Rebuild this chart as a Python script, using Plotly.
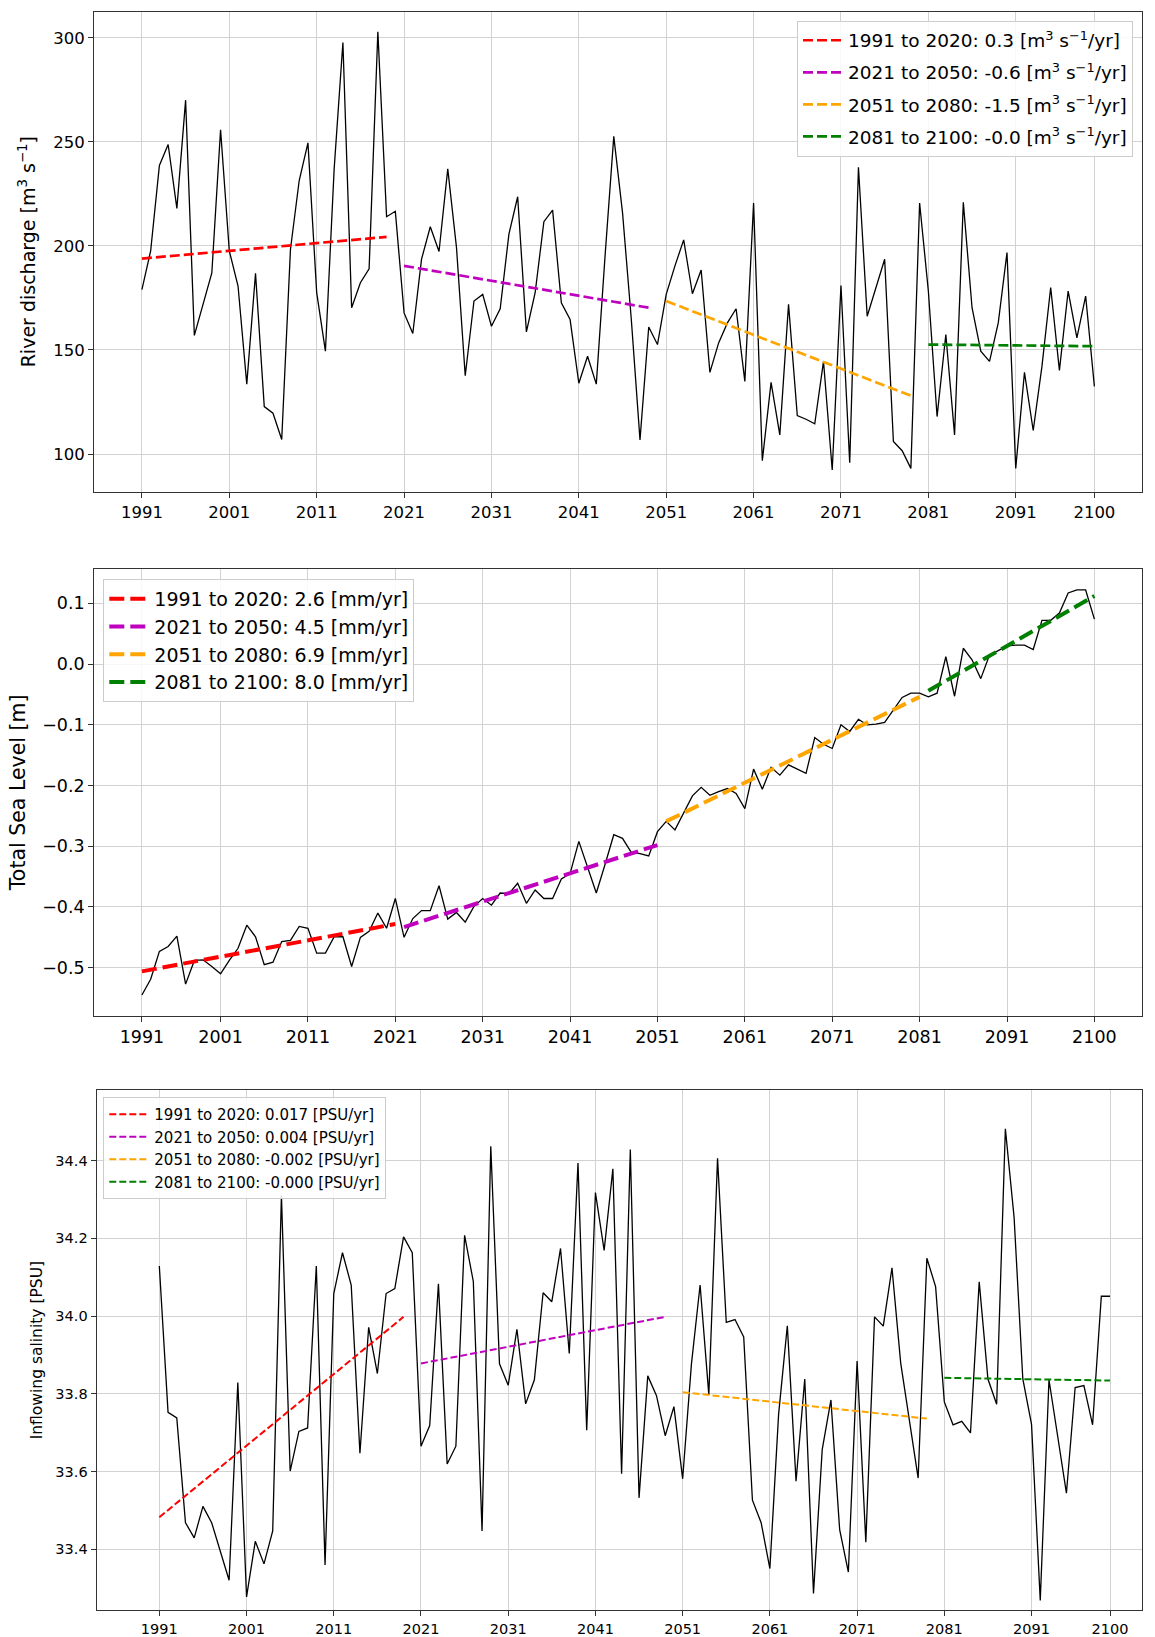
import plotly.graph_objects as go

W, H = 1155, 1637

years = list(range(1991, 2101))

# River discharge [m3 s-1], one value per year 1991..2100
discharge = [
    179.0, 197.6, 238.6, 248.7, 218.0, 270.0, 157.0, 172.0, 187.0, 255.8,
    197.6, 180.7, 133.6, 186.8, 122.8, 119.6, 107.0, 198.4, 231.4, 249.5,
    177.5, 149.4, 237.0, 297.7, 170.3, 182.3, 189.0, 302.9, 214.0, 216.6,
    167.8, 157.9, 193.6, 209.2, 197.3, 237.0, 199.2, 137.6, 173.5, 176.7,
    161.4, 169.8, 205.6, 223.6, 158.7, 177.5, 211.6, 217.2, 172.7, 164.6,
    134.0, 147.0, 133.6, 195.0, 252.6, 216.0, 165.0, 106.8, 161.0, 152.6,
    176.7, 190.4, 202.9, 177.0, 188.4, 139.2, 153.4, 163.0, 169.8, 134.9,
    220.6, 96.8, 134.4, 109.2, 171.9, 118.5, 116.7, 114.5, 144.5, 92.3,
    181.0, 95.8, 237.8, 166.2, 180.0, 193.6, 106.0, 101.6, 93.1, 220.6,
    178.3, 118.0, 157.4, 109.2, 220.9, 170.3, 149.4, 144.5, 163.0, 196.8,
    93.1, 139.2, 111.3, 142.1, 180.0, 140.2, 178.3, 155.8, 175.9, 132.5,
]

# Total sea level [m]
sea_level = [
    -0.545, -0.519, -0.473, -0.465, -0.448, -0.527, -0.488, -0.487, -0.498, -0.510,
    -0.488, -0.468, -0.430, -0.449, -0.495, -0.491, -0.457, -0.455, -0.432, -0.435,
    -0.476, -0.476, -0.449, -0.449, -0.498, -0.450, -0.440, -0.410, -0.435, -0.386,
    -0.450, -0.419, -0.406, -0.406, -0.365, -0.420, -0.409, -0.425, -0.399, -0.386,
    -0.397, -0.377, -0.378, -0.361, -0.394, -0.372, -0.386, -0.386, -0.354, -0.345,
    -0.292, -0.334, -0.377, -0.330, -0.281, -0.287, -0.310, -0.312, -0.316, -0.276,
    -0.259, -0.273, -0.246, -0.217, -0.203, -0.216, -0.210, -0.205, -0.213, -0.238,
    -0.173, -0.206, -0.170, -0.183, -0.166, -0.173, -0.180, -0.121, -0.132, -0.139,
    -0.100, -0.111, -0.091, -0.100, -0.099, -0.096, -0.076, -0.055, -0.048, -0.048,
    -0.054, -0.048, 0.012, -0.053, 0.026, 0.007, -0.024, 0.015, 0.022, 0.030,
    0.031, 0.031, 0.024, 0.072, 0.072, 0.084, 0.117, 0.122, 0.122, 0.074,
]

# Inflowing salinity [PSU]
salinity = [
    34.129, 33.752, 33.738, 33.468, 33.429, 33.510, 33.468, 33.395, 33.320, 33.829,
    33.277, 33.420, 33.362, 33.447, 34.311, 33.601, 33.703, 33.712, 34.129, 33.359,
    34.058, 34.163, 34.080, 33.647, 33.971, 33.852, 34.058, 34.071, 34.204, 34.163,
    33.665, 33.718, 34.083, 33.619, 33.665, 34.208, 34.089, 33.447, 34.437, 33.877,
    33.822, 33.966, 33.774, 33.836, 34.060, 34.037, 34.174, 33.904, 34.394, 33.706,
    34.318, 34.169, 34.379, 33.594, 34.429, 33.532, 33.846, 33.795, 33.692, 33.767,
    33.581, 33.875, 34.080, 33.797, 34.406, 33.984, 33.991, 33.946, 33.526, 33.468,
    33.350, 33.747, 33.975, 33.575, 33.838, 33.286, 33.656, 33.784, 33.450, 33.341,
    33.884, 33.418, 33.998, 33.974, 34.124, 33.879, 33.729, 33.583, 34.149, 34.076,
    33.779, 33.720, 33.729, 33.699, 34.088, 33.838, 33.773, 34.482, 34.254, 33.838,
    33.721, 33.268, 33.836, 33.690, 33.544, 33.816, 33.821, 33.720, 34.051, 34.051,
]

# trend segments (first year, last year) and fitted values at both ends
trend_colors = ["#ff0000", "#bf00bf", "#ffa500", "#008000"]

discharge_seg = [(1991, 2019), (2021, 2049), (2051, 2079), (2081, 2100)]
discharge_trend_start = [193.9, 190.4, 173.5, 152.6]
discharge_trend_end = [204.3, 170.3, 128.0, 151.8]
discharge_labels = [
    "1991 to 2020: 0.3 [m<sup>3</sup> s<sup>\u22121</sup>/yr]",
    "2021 to 2050: -0.6 [m<sup>3</sup> s<sup>\u22121</sup>/yr]",
    "2051 to 2080: -1.5 [m<sup>3</sup> s<sup>\u22121</sup>/yr]",
    "2081 to 2100: -0.0 [m<sup>3</sup> s<sup>\u22121</sup>/yr]",
]

sea_seg = [(1991, 2020), (2021, 2050), (2051, 2080), (2081, 2100)]
sea_trend_start = [-0.506, -0.433, -0.259, -0.044]
sea_trend_end = [-0.428, -0.298, -0.054, 0.112]
sea_labels = [
    "1991 to 2020: 2.6 [mm/yr]",
    "2021 to 2050: 4.5 [mm/yr]",
    "2051 to 2080: 6.9 [mm/yr]",
    "2081 to 2100: 8.0 [mm/yr]",
]

sal_seg = [(1991, 2019), (2021, 2049), (2051, 2079), (2081, 2100)]
sal_trend_start = [33.482, 33.878, 33.804, 33.841]
sal_trend_end = [33.998, 33.998, 33.736, 33.834]
sal_labels = [
    "1991 to 2020: 0.017 [PSU/yr]",
    "2021 to 2050: 0.004 [PSU/yr]",
    "2051 to 2080: -0.002 [PSU/yr]",
    "2081 to 2100: -0.000 [PSU/yr]",
]

# tick labels
xtick_labels = [str(y) for y in range(1991, 2100, 10)] + ["2100"]
xtick_vals = list(range(1991, 2100, 10)) + [2100]
# middle panel has its grid at round decades but labelled like the others
xtick_vals_sea = [1991] + list(range(2000, 2100, 10)) + [2100]

FONT = "DejaVu Sans"

panels = [
    dict(y=discharge, seg=discharge_seg, t0=discharge_trend_start, t1=discharge_trend_end,
         labels=discharge_labels, lw=2.7, dash="10px,4px", legend="legend"),
    dict(y=sea_level, seg=sea_seg, t0=sea_trend_start, t1=sea_trend_end,
         labels=sea_labels, lw=4, dash="15px,6px", legend="legend2"),
    dict(y=salinity, seg=sal_seg, t0=sal_trend_start, t1=sal_trend_end,
         labels=sal_labels, lw=2, dash="7px,3px", legend="legend3"),
]

fig = go.Figure()
for k, p in enumerate(panels):
    xa = "x" if k == 0 else f"x{k + 1}"
    ya = "y" if k == 0 else f"y{k + 1}"
    fig.add_trace(go.Scatter(x=years, y=p["y"], mode="lines", xaxis=xa, yaxis=ya,
                             line=dict(color="black", width=1.3), showlegend=False))
    for i, (a, b) in enumerate(p["seg"]):
        fig.add_trace(go.Scatter(x=[a, b], y=[p["t0"][i], p["t1"][i]], mode="lines",
                                 xaxis=xa, yaxis=ya, name=p["labels"][i],
                                 legend=p["legend"], legendgroup=f"{k}{i}",
                                 line=dict(color=trend_colors[i], width=p["lw"], dash=p["dash"])))


def px_x(a, b):
    return [a / W, b / W]


def px_y(top, bottom):
    return [1 - bottom / H, 1 - top / H]


axis_common = dict(showline=True, mirror=True, linecolor="#333333", linewidth=1.3,
                   ticks="outside", ticklen=5, tickcolor="#333333", tickwidth=1.2,
                   showgrid=True, gridcolor="#d2d2d2", gridwidth=1.4, zeroline=False,
                   automargin=False)

legend_common = dict(bgcolor="rgba(255,255,255,0.85)", bordercolor="#cccccc",
                     borderwidth=1, itemwidth=40)

fig.update_layout(
    width=W, height=H,
    margin=dict(l=0, r=0, t=0, b=0),
    paper_bgcolor="white", plot_bgcolor="white",
    font=dict(family=FONT, color="black"),
    xaxis=dict(domain=px_x(94.3, 1142), range=[1985.55, 2105.45], anchor="y",
               tickvals=xtick_vals, ticktext=xtick_labels, tickfont=dict(size=16.5), **axis_common),
    yaxis=dict(domain=px_y(11.7, 491.7), range=[81.9, 312.5], anchor="x",
               tickvals=[100, 150, 200, 250, 300], tickfont=dict(size=16.5),
               title=dict(text="River discharge [m<sup>3</sup> s<sup>\u22121</sup>]",
                          font=dict(size=19), standoff=12), **axis_common),
    xaxis2=dict(domain=px_x(94.3, 1142), range=[1985.55, 2105.45], anchor="y2",
                tickvals=xtick_vals_sea, ticktext=xtick_labels, tickfont=dict(size=17.5), **axis_common),
    yaxis2=dict(domain=px_y(569, 1015.7), range=[-0.579, 0.1565], anchor="x2",
                dtick=0.1, tick0=0, tickformat=".1f", tickfont=dict(size=17.5),
                title=dict(text="Total Sea Level [m]", font=dict(size=20.5), standoff=10),
                **axis_common),
    xaxis3=dict(domain=px_x(96.7, 1141.7), range=[1983.82, 2103.63], anchor="y3",
                tickvals=xtick_vals, ticktext=xtick_labels, tickfont=dict(size=14.5), **axis_common),
    yaxis3=dict(domain=px_y(1090, 1610.3), range=[33.2425, 34.582], anchor="x3",
                dtick=0.2, tick0=33.4, tickformat=".1f", tickfont=dict(size=14.5),
                title=dict(text="Inflowing salinity [PSU]", font=dict(size=15.5), standoff=8),
                **axis_common),
    legend=dict(x=1133 / W, xanchor="right", y=1 - 20.7 / H, yanchor="top",
                font=dict(size=18.5), tracegroupgap=5, **legend_common),
    legend2=dict(x=103.3 / W, xanchor="left", y=1 - 579 / H, yanchor="top",
                 font=dict(size=19), tracegroupgap=0, **legend_common),
    legend3=dict(x=103.3 / W, xanchor="left", y=1 - 1097 / H, yanchor="top",
                 font=dict(size=15), tracegroupgap=0, **legend_common),
)

# the page's default body margin would push the figure 8px off the window
fig.write_html("out.html", config={"displayModeBar": False},
               post_script="document.body.style.margin='0px';")
